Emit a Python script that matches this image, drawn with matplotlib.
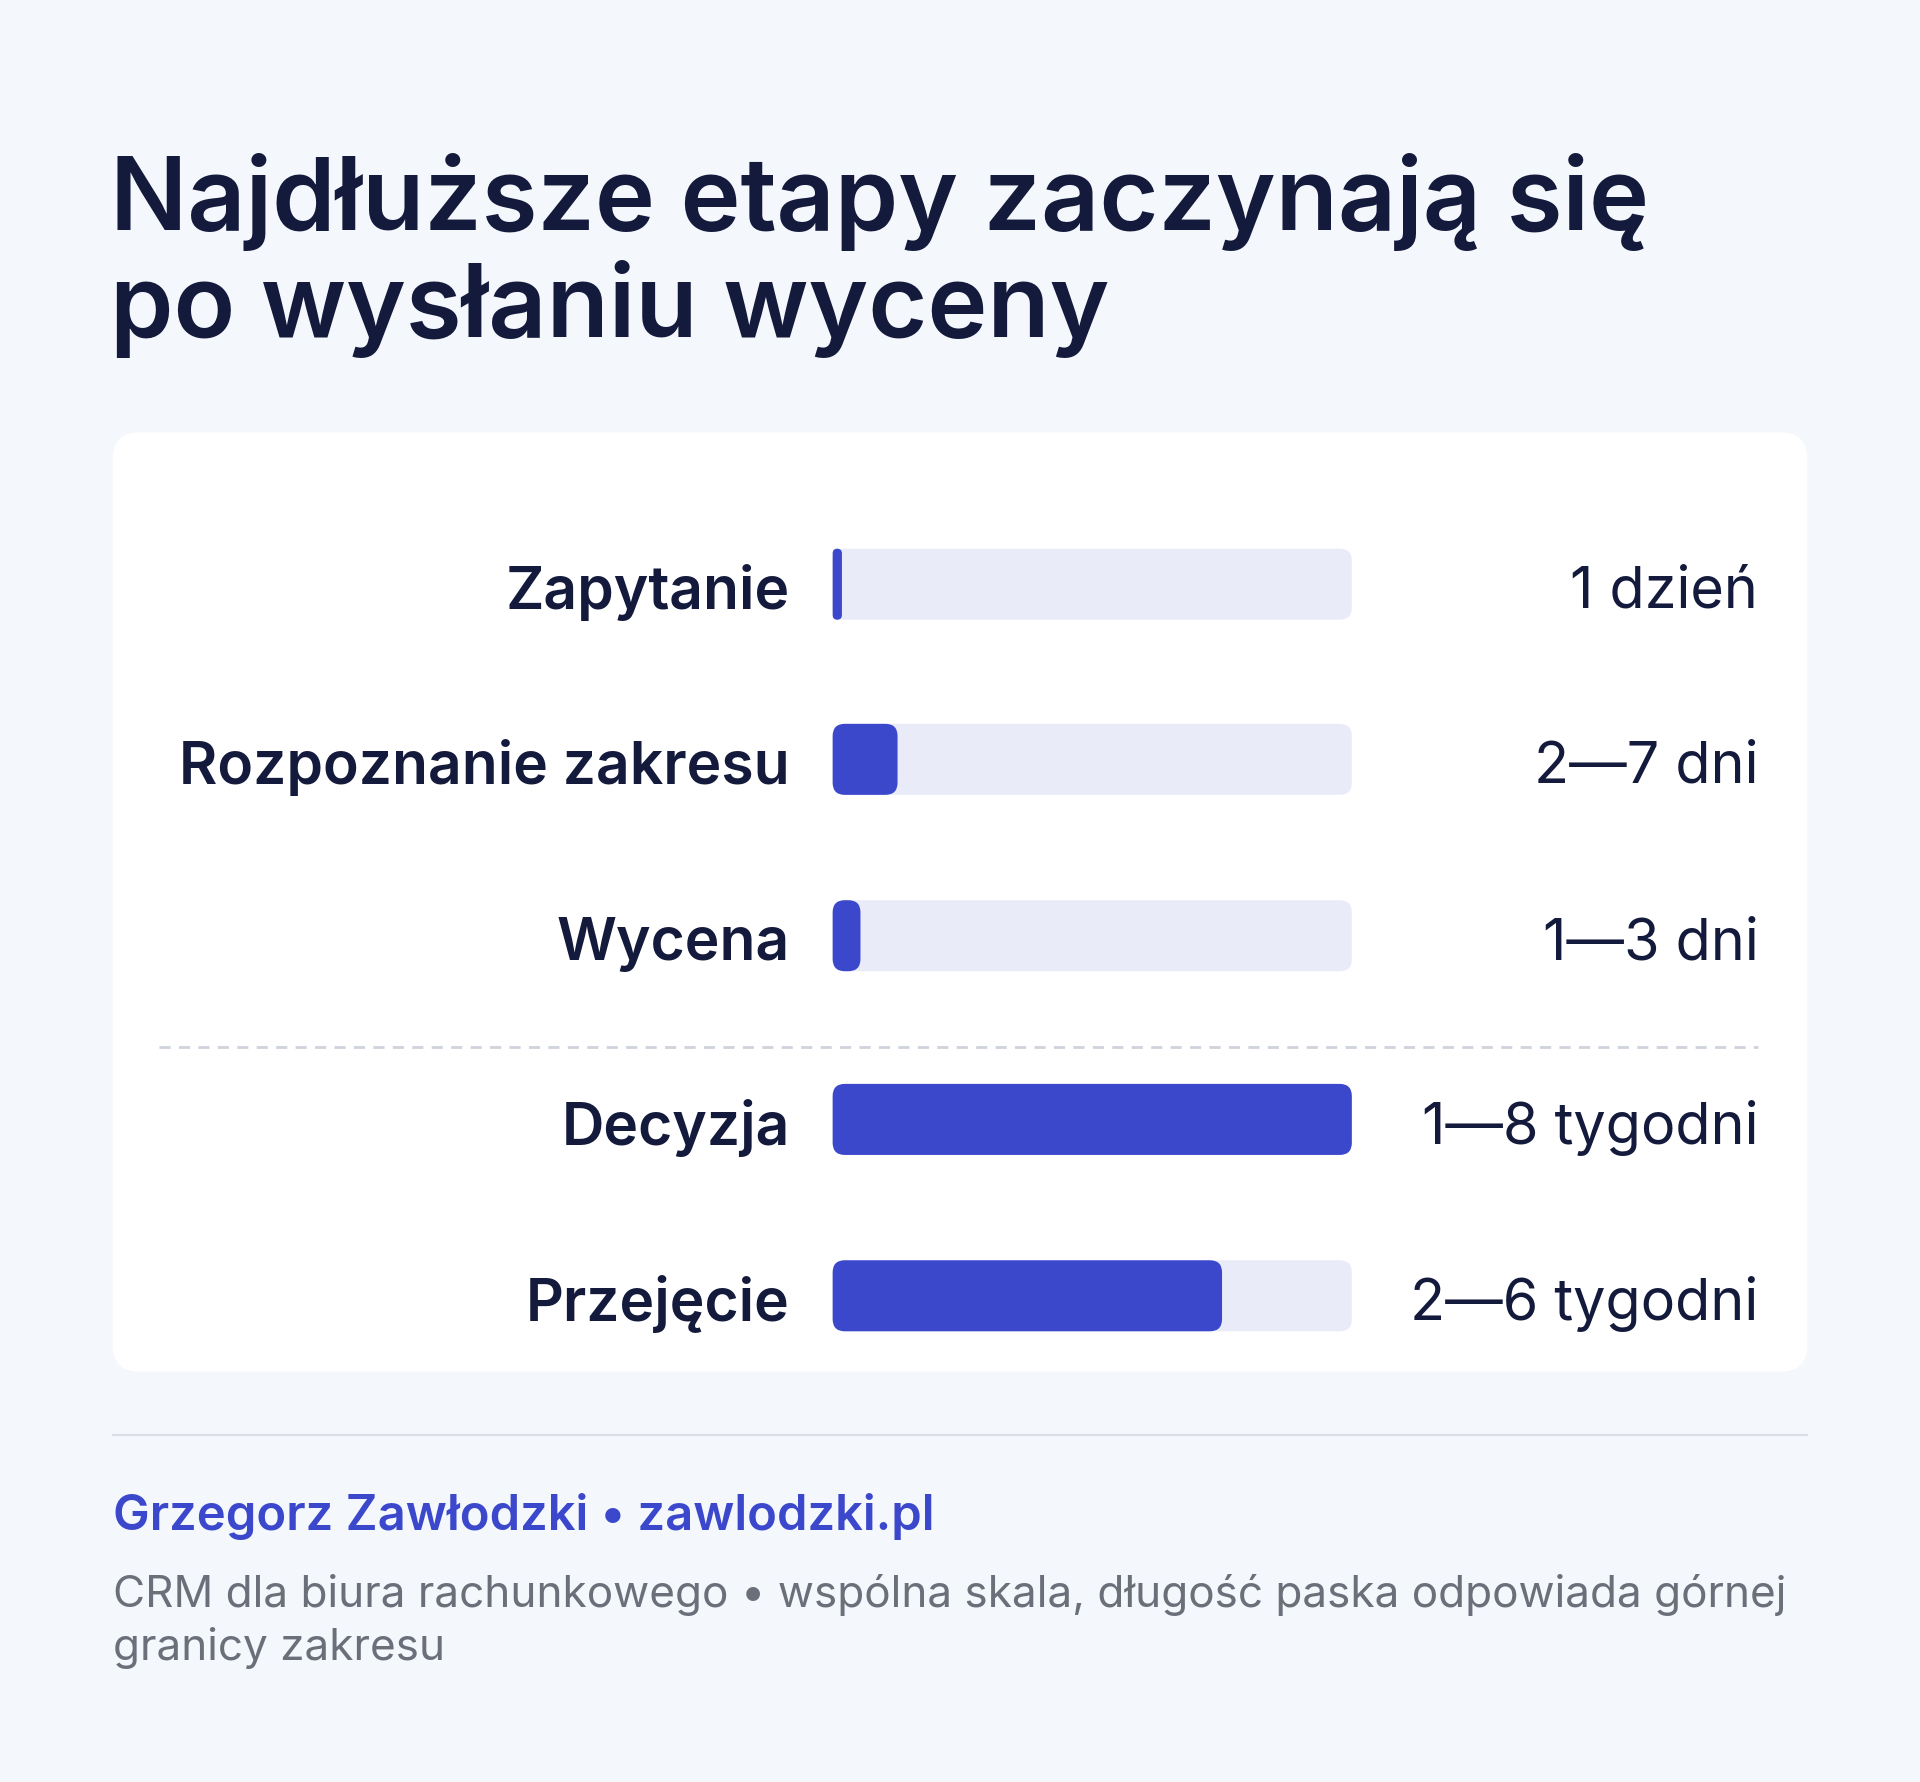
import matplotlib.pyplot as plt
from matplotlib.patches import FancyBboxPatch

plt.rcParams['font.family'] = ['Inter', 'DejaVu Sans']

# data: upper bound of each stage, in days
stages = ['Zapytanie', 'Rozpoznanie zakresu', 'Wycena', 'Decyzja', 'Przejęcie']
upper_days = [1, 7, 3, 56, 42]
range_labels = ['1 dzień', '2—7 dni', '1—3 dni', '1—8 tygodni', '2—6 tygodni']
scale_max = 56

title = 'Najdłuższe etapy zaczynają się\npo wysłaniu wyceny'
author = 'Grzegorz Zawłodzki • zawlodzki.pl'
note = 'CRM dla biura rachunkowego • wspólna skala, długość paska odpowiada górnej\ngranicy zakresu'

BG = '#F4F7FB'
BAR = '#3B48CC'
TRACK = '#E9ECF8'
INK = '#141A3C'
GREY = '#6B6F7A'

W, H = 1568, 1455          # layout units (reference scaled)
s = 1920 / W
def pt(px):                 # layout px em -> points
    return px * s * 0.72

fig = plt.figure(figsize=(19.2, 17.82), dpi=100, facecolor=BG)
ax = fig.add_axes([0, 0, 1, 1])
ax.set_xlim(0, W)
ax.set_ylim(H, 0)
ax.axis('off')

ax.text(90, 275, title, fontsize=pt(83), fontweight='semibold', color=INK,
        va='baseline', ha='left', linespacing=1.12)

ax.add_patch(FancyBboxPatch((92, 353), 1384, 767, boxstyle='round,pad=0,rounding_size=22',
                            fc='white', ec='none'))

track_x, track_w, bar_h = 680, 424, 58
rows_y = [477, 620, 764, 914, 1058]
for name, val, lab, y in zip(stages, upper_days, range_labels, rows_y):
    ax.add_patch(FancyBboxPatch((track_x, y - bar_h / 2), track_w, bar_h,
                                boxstyle='round,pad=0,rounding_size=10', fc=TRACK, ec='none'))
    w = val / scale_max * track_w
    r = min(10, w / 2)
    ax.add_patch(FancyBboxPatch((track_x, y - bar_h / 2), w, bar_h,
                                boxstyle=f'round,pad=0,rounding_size={r:.2f}',
                                fc=BAR, ec='none'))
    ax.text(645, y + 2, name, fontsize=pt(48), fontweight='semibold', color=INK,
            ha='right', va='center_baseline')
    ax.text(1436, y + 2, lab, fontsize=pt(47), color=INK, ha='right', va='center_baseline')

ax.plot([130, 1436], [855, 855], color='#CFD3DC', lw=2, ls=(0, (4, 3)))
ax.plot([92, 1476], [1172, 1172], color='#DADDE3', lw=1.5)

ax.text(92, 1238, author, fontsize=pt(40), fontweight='semibold', color=BAR,
        ha='left', va='center')
ax.text(92, 1285, note, fontsize=pt(36), color=GREY, ha='left', va='top', linespacing=1.35)

fig.savefig('out.png', dpi=100, facecolor=BG)
